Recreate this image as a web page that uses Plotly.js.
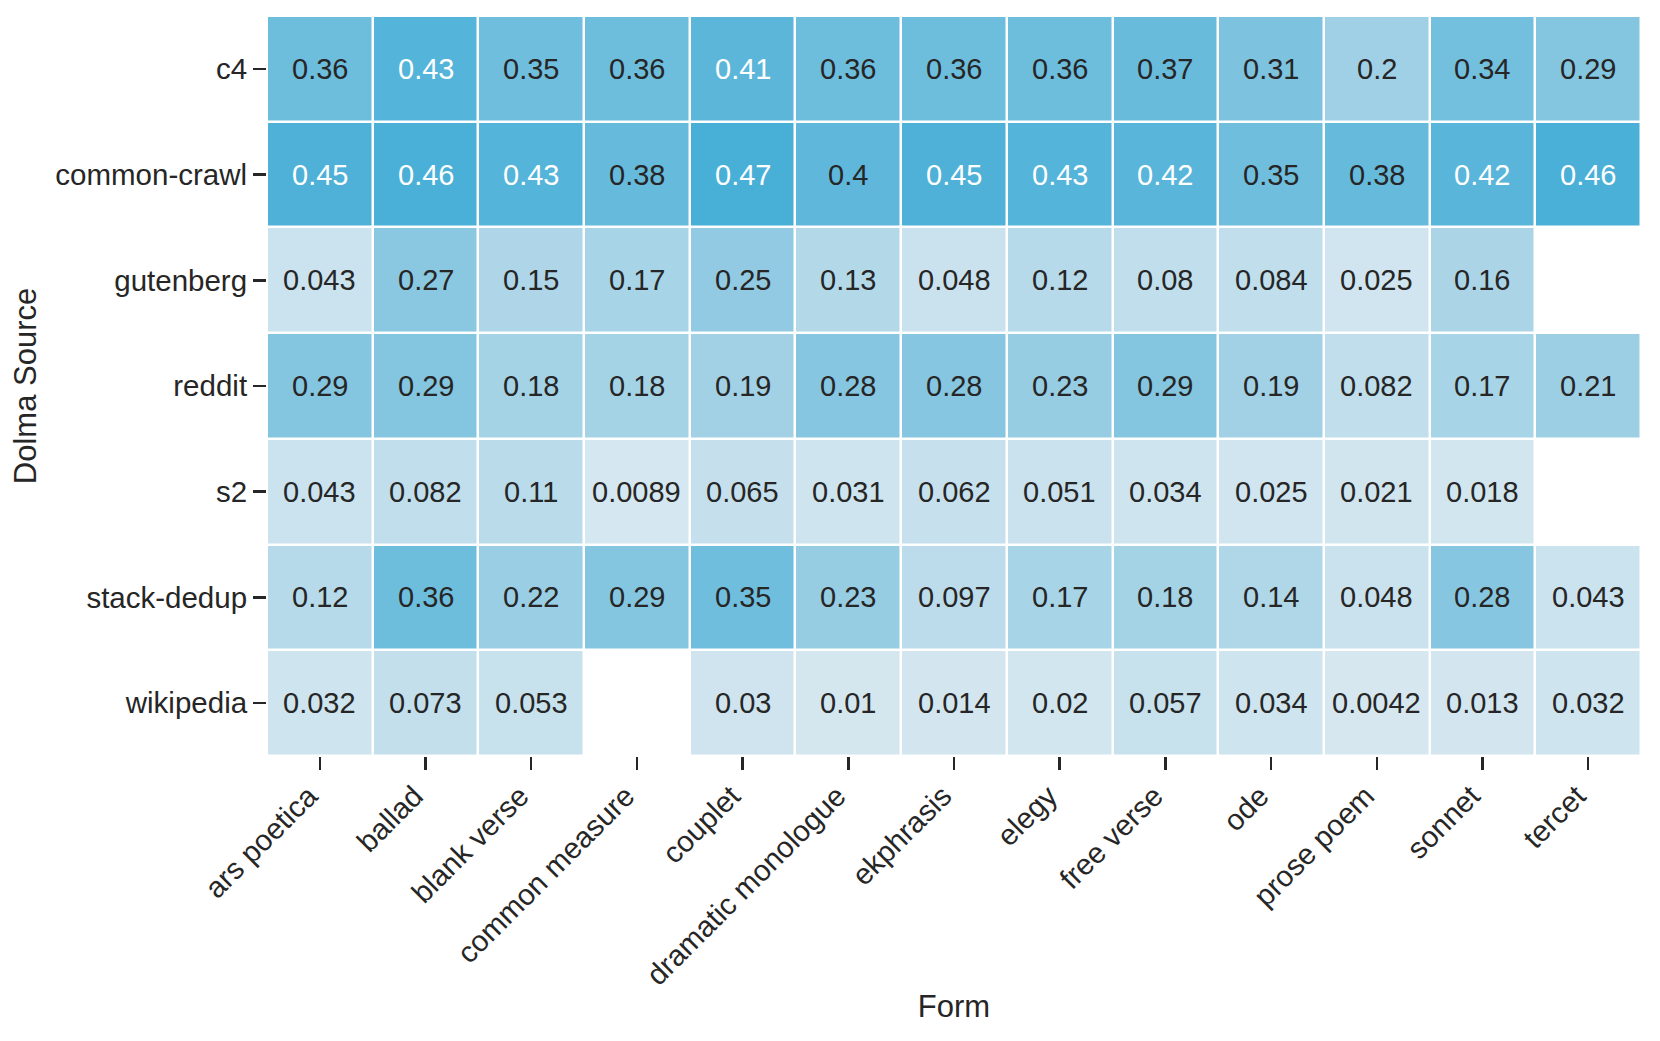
<!DOCTYPE html>
<html>
<head>
<meta charset="utf-8">
<script src="https://cdn.plot.ly/plotly-3.0.1.min.js"></script>
<style>html,body{margin:0;padding:0;background:#fff;}#chart{width:1660px;height:1041px;}</style>
</head>
<body>
<div id="chart"></div>
<script>
const forms = ["ars poetica","ballad","blank verse","common measure","couplet","dramatic monologue","ekphrasis","elegy","free verse","ode","prose poem","sonnet","tercet"];
const sources = ["c4","common-crawl","gutenberg","reddit","s2","stack-dedup","wikipedia"];

const c4 = [0.36,0.43,0.35,0.36,0.41,0.36,0.36,0.36,0.37,0.31,0.2,0.34,0.29];
const commonCrawl = [0.45,0.46,0.43,0.38,0.47,0.4,0.45,0.43,0.42,0.35,0.38,0.42,0.46];
const gutenberg = [0.043,0.27,0.15,0.17,0.25,0.13,0.048,0.12,0.08,0.084,0.025,0.16,null];
const reddit = [0.29,0.29,0.18,0.18,0.19,0.28,0.28,0.23,0.29,0.19,0.082,0.17,0.21];
const s2 = [0.043,0.082,0.11,0.0089,0.065,0.031,0.062,0.051,0.034,0.025,0.021,0.018,null];
const stackDedup = [0.12,0.36,0.22,0.29,0.35,0.23,0.097,0.17,0.18,0.14,0.048,0.28,0.043];
const wikipedia = [0.032,0.073,0.053,null,0.03,0.01,0.014,0.02,0.057,0.034,0.0042,0.013,0.032];

const z = [c4, commonCrawl, gutenberg, reddit, s2, stackDedup, wikipedia];

const FONT = "Liberation Sans, Arial, Helvetica, sans-serif";
const DARK = "#262626";

const annotations = [];
z.forEach((row, i) => {
  row.forEach((v, j) => {
    if (v === null) return;
    annotations.push({
      x: forms[j], y: sources[i], xref: "x", yref: "y",
      text: String(Number(v.toPrecision(2))),
      showarrow: false,
      font: {family: FONT, size: 29, color: v > 0.405 ? "#ffffff" : DARK}
    });
  });
});

const trace = {
  type: "heatmap",
  x: forms, y: sources, z: z,
  colorscale: [[0, "rgb(215,232,240)"], [0.5, "rgb(150,204,227)"], [1, "rgb(72,175,215)"]],
  zmin: 0, zmax: 0.47,
  showscale: false,
  xgap: 2.5, ygap: 2.5,
  hoverinfo: "skip"
};

const layout = {
  width: 1660, height: 1041,
  margin: {l: 267, r: 19, t: 16, b: 285},
  paper_bgcolor: "#fff", plot_bgcolor: "#fff",
  font: {family: FONT, color: DARK},
  xaxis: {
    type: "category", tickangle: -45,
    ticks: "outside", ticklen: 13, tickwidth: 2.5, tickcolor: DARK,
    tickfont: {family: FONT, size: 29.5, color: DARK},
    ticklabelshift: -11, ticklabelstandoff: -3,
    showgrid: false, zeroline: false, showline: false,
    title: {text: "Form", font: {family: FONT, size: 31, color: DARK}, standoff: 4},
    automargin: false
  },
  yaxis: {
    type: "category", autorange: "reversed",
    ticks: "outside", ticklen: 13, tickwidth: 2.5, tickcolor: DARK,
    tickfont: {family: FONT, size: 29.5, color: DARK},
    showgrid: false, zeroline: false, showline: false,
    title: {text: "Dolma Source", font: {family: FONT, size: 31, color: DARK}, standoff: 9},
    automargin: false
  },
  annotations: annotations
};

Plotly.newPlot("chart", [trace], layout, {displayModeBar: false, staticPlot: true});
</script>
</body>
</html>
